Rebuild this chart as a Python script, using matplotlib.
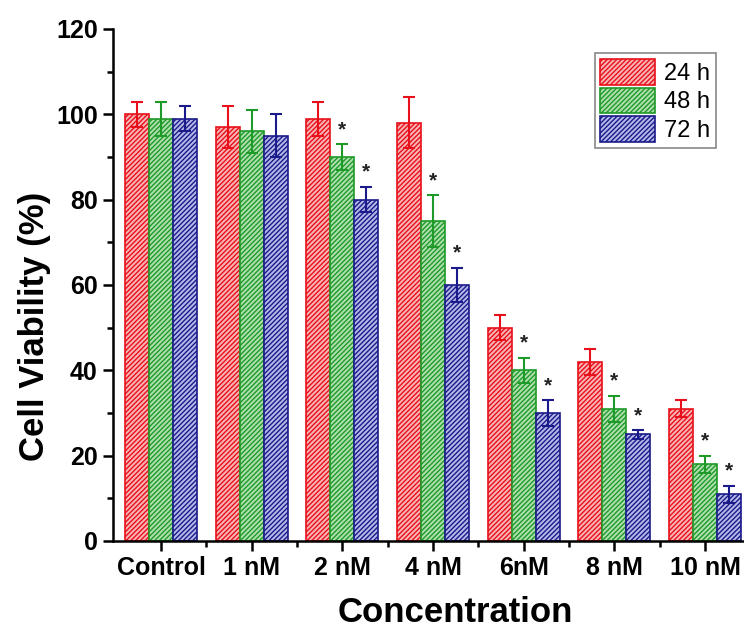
import numpy as np
import matplotlib
matplotlib.use("Agg")
import matplotlib.pyplot as plt
from matplotlib.ticker import MultipleLocator, FixedLocator

categories = ["Control", "1 nM", "2 nM", "4 nM", "6nM", "8 nM", "10 nM"]
series = ["24 h", "48 h", "72 h"]
v24 = [100, 97, 99, 98, 50, 42, 31]
v48 = [99, 96, 90, 75, 40, 31, 18]
v72 = [99, 95, 80, 60, 30, 25, 11]
e24 = [3, 5, 4, 6, 3, 3, 2]
e48 = [4, 5, 3, 6, 3, 3, 2]
e72 = [3, 5, 3, 4, 3, 1, 2]
sig48 = [False, False, True, True, True, True, True]
sig72 = [False, False, True, True, True, True, True]

edge_colors = ["#e8101a", "#1e9a28", "#1a1a8a"]
face_colors = ["#f8b4b6", "#afdfaf", "#b6b8e8"]

plt.rcParams["font.family"] = ["Liberation Sans", "DejaVu Sans"]
plt.rcParams["hatch.linewidth"] = 1.0

fig = plt.figure(figsize=(7.44, 6.28), dpi=100)
ax = fig.add_axes([113 / 744, 87 / 628, (744 - 113) / 744, 512 / 628])

x = np.arange(len(categories))
w = 0.265
values = [v24, v48, v72]
errs = [e24, e48, e72]
sigs = [None, sig48, sig72]

for i in range(3):
    xs = x + (i - 1) * w
    ax.bar(xs, values[i], w, color=face_colors[i], edgecolor=edge_colors[i],
           hatch="///////", linewidth=1.2, label=series[i], zorder=2)
    ax.errorbar(xs, values[i], yerr=errs[i], fmt="none", ecolor=edge_colors[i],
                elinewidth=1.5, capsize=4, capthick=1.5, zorder=3)
    if sigs[i] is not None:
        for xx, v, e, s in zip(xs, values[i], errs[i], sigs[i]):
            if s:
                ax.text(xx, v + e + 1.2, "*", ha="center", va="bottom",
                        fontsize=15, fontweight="bold", color="#222222")

ax.set_xlim(-0.53, 6.43)
ax.set_ylim(0, 120)
ax.set_xticks(x)
ax.set_xticklabels(categories)
ax.xaxis.set_minor_locator(FixedLocator(x[:-1] + 0.5))
ax.yaxis.set_major_locator(MultipleLocator(20))
ax.yaxis.set_minor_locator(MultipleLocator(10))

for s in ["top", "right"]:
    ax.spines[s].set_visible(False)
for s in ["left", "bottom"]:
    ax.spines[s].set_linewidth(1.8)

ax.tick_params(axis="both", which="major", direction="out", length=7, width=1.8,
               labelsize=18, pad=4)
ax.tick_params(axis="both", which="minor", direction="out", length=4, width=1.8)
for lbl in ax.get_xticklabels() + ax.get_yticklabels():
    lbl.set_fontweight("bold")

ax.set_ylabel("Cell Viability (%)", fontsize=25, fontweight="bold")
ax.set_xlabel("Concentration", fontsize=25, fontweight="bold")
ax.yaxis.set_label_coords(-0.098, 0.42)
ax.xaxis.set_label_coords(0.542, -0.108)

leg = ax.legend(loc="upper right", bbox_to_anchor=(0.956, 0.953), borderaxespad=0,
                fontsize=17, handlelength=2.3, handleheight=1.3, handletextpad=0.4,
                labelspacing=0.12, borderpad=0.25, fancybox=False, framealpha=1)
leg.get_frame().set_edgecolor("#888888")
leg.get_frame().set_linewidth(1.2)

fig.savefig("out.png", dpi=100)
